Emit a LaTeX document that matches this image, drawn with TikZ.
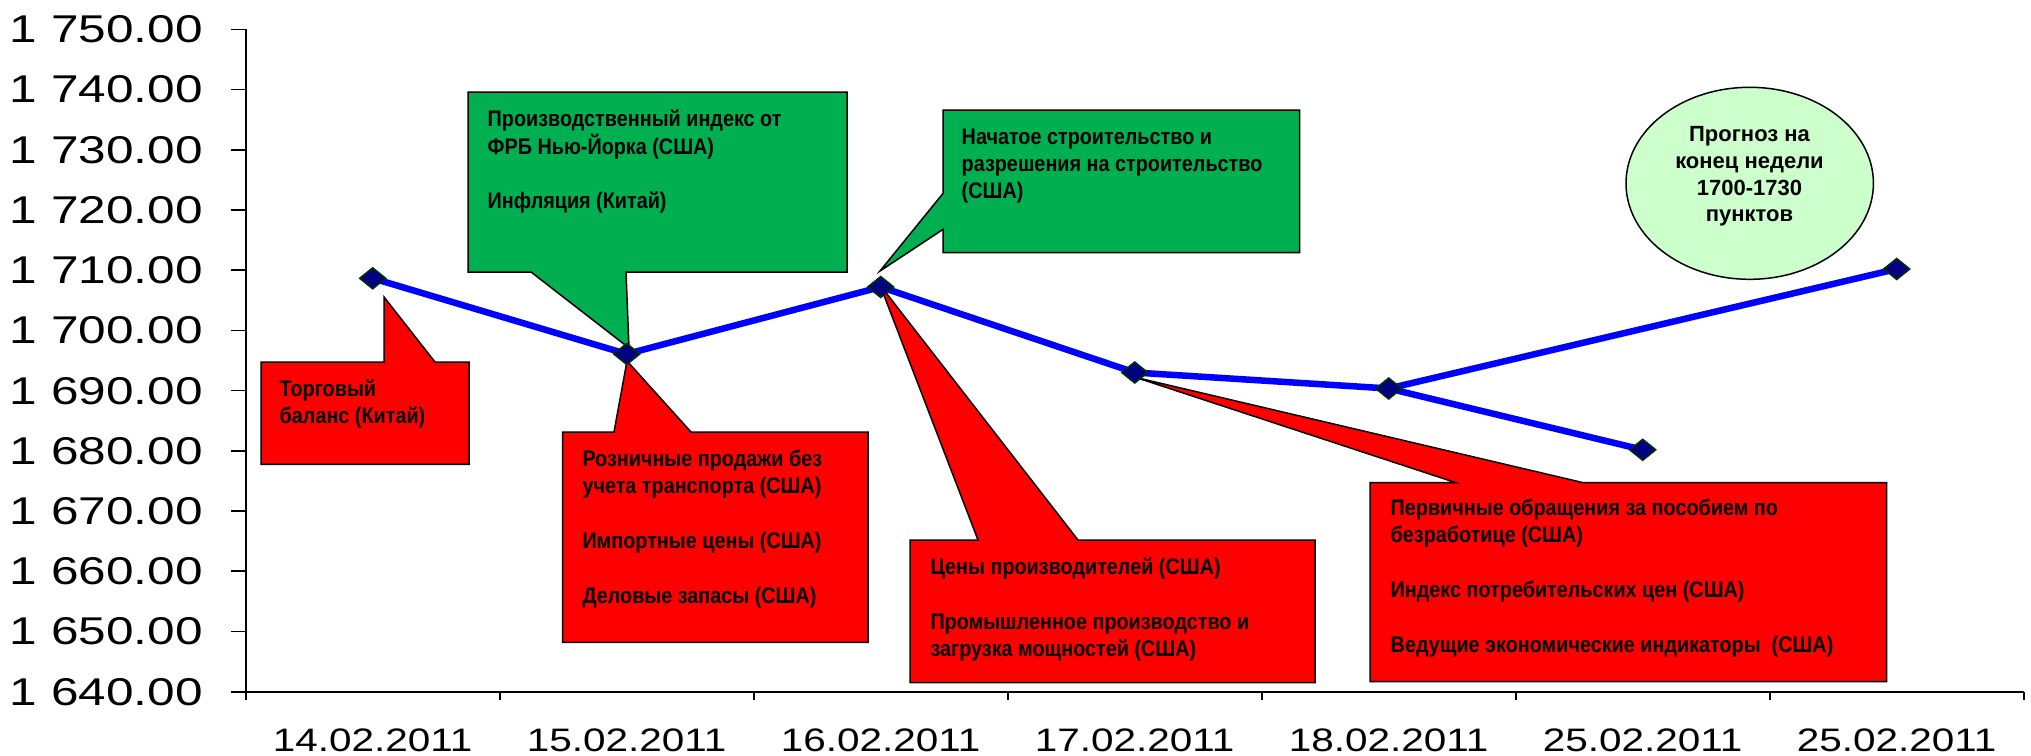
\documentclass[tikz,border=0pt]{standalone}
\usepackage{fontspec}
\setmainfont{Liberation Sans}
\newfontfamily\ylabfont[FakeStretch=1.28]{Liberation Sans}
\newfontfamily\xlabfont[FakeStretch=1.245]{Liberation Sans}
\newfontfamily\callfont[FakeStretch=0.88]{Liberation Sans}
\newfontfamily\ellfont{Liberation Sans}
\usetikzlibrary{shapes.geometric}
\definecolor{calloutred}{HTML}{FF0000}
\definecolor{calloutgreen}{HTML}{00B050}
\definecolor{forecastgreen}{HTML}{CCFFCC}
\definecolor{seriesblue}{HTML}{0000FF}
\definecolor{markernavy}{HTML}{000080}
\definecolor{markerrim}{HTML}{003300}
\newcommand\LeftLines[1]{\vtop{\baselineskip=27.4pt\lineskiplimit=-100pt\lineskip=0pt\halign{##\hfil\cr#1\crcr}}}
\newcommand\MidLines[1]{\vtop{\baselineskip=26.7pt\lineskiplimit=-100pt\lineskip=0pt\halign{\hfil##\hfil\cr#1\crcr}}}
\tikzset{
  datamark/.pic={\path[fill=markernavy,draw=markerrim,line width=1.5pt] (-13,0) -- (0,-10.5) -- (13,0) -- (0,10.5) -- cycle;}
}
\begin{document}
\begin{tikzpicture}[x=1pt,y=-1pt,
  axisline/.style={line width=1.6pt,draw=black},
  ylabel/.style={anchor=base east,inner sep=0pt,font=\ylabfont\fontsize{38.7}{40}\selectfont},
  xlabel/.style={anchor=base,inner sep=0pt,font=\xlabfont\fontsize{32.5}{34}\selectfont},
  redbox/.style={fill=calloutred,draw=black,line width=1.5pt},
  greenbox/.style={fill=calloutgreen,draw=black,line width=1.5pt},
  calltext/.style={anchor=base west,inner sep=0pt,font=\callfont\bfseries\fontsize{22.5}{27.4}\selectfont},
  series/.style={draw=seriesblue,line width=6.5pt,line join=round},
]
\useasboundingbox[fill=white] (0,0) rectangle (2031,755);

% axes
\draw[axisline] (231,29.3) -- (245.7,29.3) -- (245.7,700);
\draw[axisline] (231,691.7) -- (2023.7,691.7);
\foreach \i in {1,...,11} \draw[axisline] (231,{29.3+60.22*\i}) -- (245.7,{29.3+60.22*\i});
\foreach \k in {1,...,7} \draw[axisline] ({245.7+254*\k},691.7) -- ({245.7+254*\k},700);

% y labels
\foreach \n [count=\i from 0] in {750,740,730,720,710,700,690,680,670,660,650,640}
  \node[ylabel] (yl\n) at (203,{42.7+60.22*\i}) {1 \n.00};

% x labels
\foreach \d [count=\i from 0] in {14.02.2011,15.02.2011,16.02.2011,17.02.2011,18.02.2011,25.02.2011,25.02.2011}
  \node[xlabel] (xl\i) at ({245.7+254*(\i+0.5)},751.6) {\d};

% data points
\coordinate (p1) at (372.7,278.3);
\coordinate (p2) at (626.7,354);
\coordinate (p3) at (880.7,287);
\coordinate (p4) at (1134.7,372.5);
\coordinate (p5) at (1388.7,388.5);
\coordinate (p6) at (1642.7,449.8);
\coordinate (p7) at (1896.7,269);

% callouts
\path[redbox] (261,362) -- (384,362) -- (384,297) -- (435,362) -- (469,362) -- (469,464.3) -- (261,464.3) -- cycle;
\path[greenbox] (468,92) -- (847,92) -- (847,272) -- (626,272) -- (629,348) -- (531,272) -- (468,272) -- cycle;
\path[redbox] (562.5,432) -- (614,432) -- (627,361) -- (691,432) -- (868,432) -- (868,642.3) -- (562.5,642.3) -- cycle;
\path[greenbox] (943,110) -- (1299.5,110) -- (1299.5,252.7) -- (943,252.7) -- (943,229.4) -- (880,271) -- (943,193.4) -- cycle;
\path[redbox] (910,540) -- (978,540) -- (880,285) -- (1078,540) -- (1315,540) -- (1315,682.7) -- (910,682.7) -- cycle;
\path[redbox] (1370,482.7) -- (1456,482.7) -- (1136,377.5) -- (1583.3,482.7) -- (1886.7,482.7) -- (1886.7,681.7) -- (1370,681.7) -- cycle;
\node[ellipse,draw=black,line width=1.5pt,fill=forecastgreen,minimum width=247.4pt,minimum height=192pt,inner sep=0pt] (forecast) at (1749.7,183.3) {};

% series
\draw[series] (p1) -- (p2) -- (p3) -- (p4) -- (p5) -- (p6);
\draw[series] (p5) -- (p7);
\foreach \p in {p1,p2,p3,p4,p5,p6,p7} \pic at (\p) {datamark};

% callout texts
\node[calltext] (ta) at (279.5,396) {\LeftLines{Торговый\cr баланс (Китай)}};
\node[calltext] (tb) at (487.5,126.7) {\LeftLines{Производственный индекс от\cr ФРБ Нью-Йорка (США)\cr\cr Инфляция (Китай)}};
\node[calltext] (tc) at (582.3,466) {\LeftLines{Розничные продажи без\cr учета транспорта (США)\cr\cr Импортные цены (США)\cr\cr Деловые запасы (США)}};
\node[calltext] (td) at (961.5,144) {\LeftLines{Начатое строительство и\cr разрешения на строительство\cr (США)}};
\node[calltext] (te) at (930.3,574.3) {\LeftLines{Цены производителей (США)\cr\cr Промышленное производство и\cr загрузка мощностей (США)}};
\node[calltext] (tf) at (1390.5,515.3) {\LeftLines{Первичные обращения за пособием по\cr безработице (США)\cr\cr Индекс потребительских цен (США)\cr\cr Ведущие экономические индикаторы\ \ (США)}};
\node[anchor=base,inner sep=0pt,font=\ellfont\bfseries\fontsize{22}{26.7}\selectfont] (tg) at (1749.5,141.7) {\MidLines{Прогноз на\cr конец недели\cr 1700-1730\cr пунктов}};
\end{tikzpicture}
\end{document}
